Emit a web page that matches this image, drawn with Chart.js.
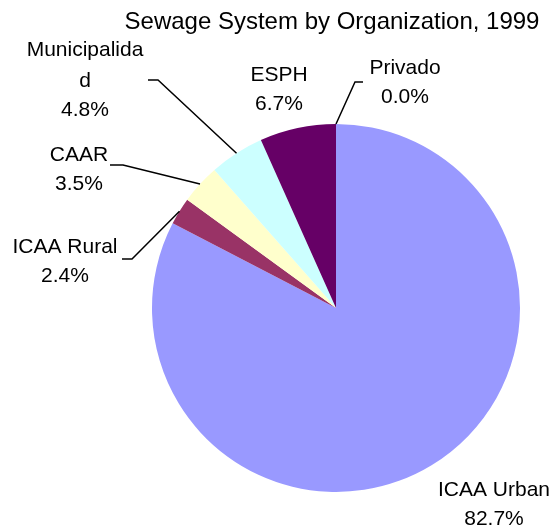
<!DOCTYPE html>
<html>
<head>
<meta charset="utf-8">
<script src="https://cdn.jsdelivr.net/npm/chart.js@4/dist/chart.umd.min.js"></script>
<style>
  html, body { margin: 0; padding: 0; background: #ffffff; }
  #wrap { width: 557px; height: 531px; }
</style>
</head>
<body>
<div id="wrap"><canvas id="c" width="557" height="531"></canvas></div>
<script>
// ---- data ----
const title = 'Sewage System by Organization, 1999';
const categories = ['ICAA Urban', 'ICAA Rural', 'CAAR', 'Municipalidad', 'ESPH', 'Privado'];
const values = [82.7, 2.4, 3.5, 4.8, 6.7, 0.0];
const colors = ['#9999FF', '#993366', '#FFFFCC', '#CCFFFF', '#660066', '#FF8080'];

// ---- label layout (positions only) ----
const labelLayout = [
  { lines: ['ICAA Urban'], x: 494, y: 490, leader: null },
  { lines: ['ICAA Rural'], x: 65, y: 247, leader: [[132, 259], [122, 259]] },
  { lines: ['CAAR'], x: 79, y: 155, leader: [[123, 165], [110, 165]] },
  { lines: ['Municipalida', 'd'], x: 85, y: 50, leader: [[158, 80], [148, 80]] },
  { lines: ['ESPH'], x: 279, y: 75, leader: null },
  { lines: ['Privado'], x: 405, y: 68, leader: [[355, 82], [363, 82]] }
];
const FONT = '"Liberation Sans", Arial, sans-serif';
const LINE_H = 29;

const labelPlugin = {
  id: 'labelPlugin',
  afterDraw(chart) {
    const ctx = chart.ctx;
    ctx.save();
    ctx.fillStyle = '#000000';
    ctx.textAlign = 'center';
    ctx.textBaseline = 'middle';
    ctx.font = '24px ' + FONT;
    ctx.fillText(title, 332, 22);

    const meta = chart.getDatasetMeta(0);
    ctx.font = '21px ' + FONT;
    ctx.strokeStyle = '#000000';
    ctx.lineWidth = 1.5;
    meta.data.forEach((arc, i) => {
      const L = labelLayout[i];
      const lines = L.lines.concat([values[i].toFixed(1) + '%']);
      lines.forEach((t, k) => ctx.fillText(t, L.x, L.y + k * LINE_H + (i === 3 && k > 0 ? 2 : 0)));
      if (L.leader) {
        const p = arc.getProps(['x', 'y', 'startAngle', 'endAngle', 'outerRadius'], true);
        const mid = (p.startAngle + p.endAngle) / 2;
        const sx = p.x + Math.cos(mid) * p.outerRadius;
        const sy = p.y + Math.sin(mid) * p.outerRadius;
        ctx.beginPath();
        ctx.moveTo(sx, sy);
        ctx.lineTo(L.leader[0][0], L.leader[0][1]);
        ctx.lineTo(L.leader[1][0], L.leader[1][1]);
        ctx.stroke();
      }
    });
    ctx.restore();
  }
};

new Chart(document.getElementById('c'), {
  type: 'pie',
  data: {
    labels: categories,
    datasets: [{
      data: values,
      backgroundColor: colors,
      borderWidth: 0
    }]
  },
  options: {
    responsive: false,
    animation: false,
    layout: { padding: { left: 152, top: 124, right: 37, bottom: 39 } },
    plugins: {
      legend: { display: false },
      tooltip: { enabled: false },
      title: { display: false }
    }
  },
  plugins: [labelPlugin]
});
</script>
</body>
</html>
